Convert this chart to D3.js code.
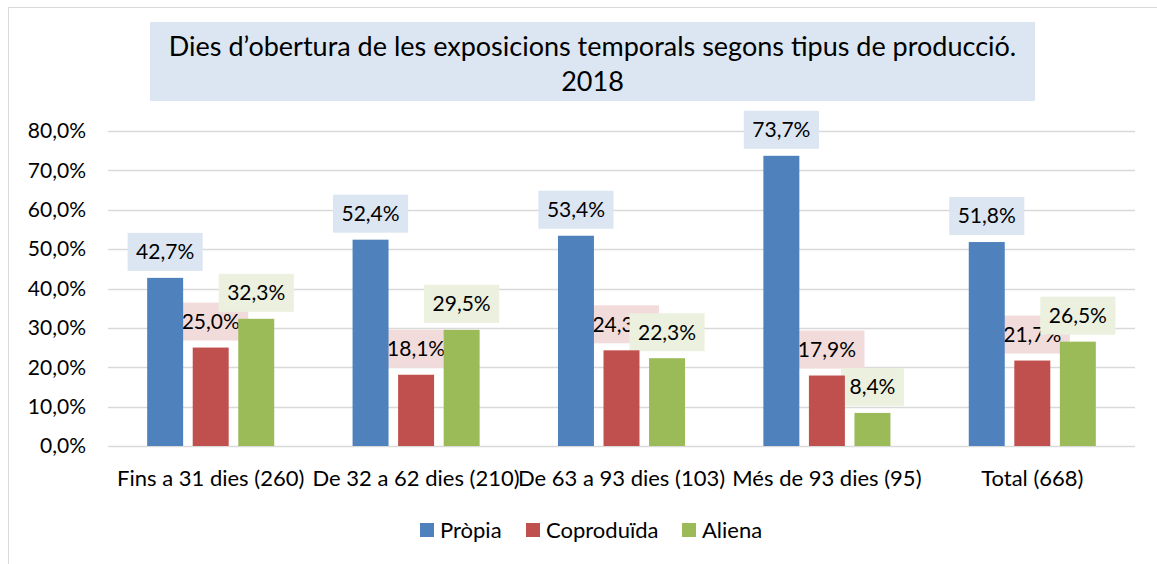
<!DOCTYPE html>
<html>
<head>
<meta charset="utf-8">
<script src="https://cdn.jsdelivr.net/npm/d3@7"></script>
<style>
  body { margin: 0; background: #fff; }
  text { font-family: Lato, "Open Sans", sans-serif; fill: #000; }
</style>
</head>
<body>
<div id="chart"></div>
<script>
// Chart data
const categories = ["Fins a 31 dies (260)", "De 32 a 62 dies (210)", "De 63 a 93 dies (103)", "Més de 93 dies (95)", "Total (668)"];
const seriesNames = ["Pròpia", "Coproduïda", "Aliena"];
const propia = [42.7, 52.4, 53.4, 73.7, 51.8];
const coproduida = [25.0, 18.1, 24.3, 17.9, 21.7];
const aliena = [32.3, 29.5, 22.3, 8.4, 26.5];
const yTicks = [0, 10, 20, 30, 40, 50, 60, 70, 80];
const titleLines = ["Dies d\u2019obertura de les exposicions temporals segons tipus de producció.", "2018"];

const seriesValues = [propia, coproduida, aliena];
const barColors = ["#4f81bd", "#c0504d", "#9bbb59"];
const labelFills = ["#dce6f2", "#f2dcdb", "#ebf1de"];

const W = 1157, H = 564;
const svg = d3.select("#chart").append("svg").attr("width", W).attr("height", H);

// outer frame
svg.append("rect")
  .attr("x", 8.5).attr("y", 7.5)
  .attr("width", 1200).attr("height", 700)
  .attr("fill", "none").attr("stroke", "#d9d9d9");

const x0 = d3.scaleBand().domain(categories).range([108, 1135]);
const x1 = d3.scaleBand().domain(seriesNames).range([0, x0.bandwidth()])
  .paddingInner(0.21).paddingOuter(0.86);
const y = d3.scaleLinear().domain([0, 80]).range([446, 131]);

const fmt = v => v.toFixed(1).replace(".", ",") + "%";

// gridlines
svg.append("g").selectAll("line").data(yTicks).join("line")
  .attr("x1", 108).attr("x2", 1135)
  .attr("y1", d => Math.round(y(d)) + 0.5).attr("y2", d => Math.round(y(d)) + 0.5)
  .attr("stroke", "#d9d9d9").attr("stroke-width", 1.3);

// y axis labels
svg.append("g").selectAll("text").data(yTicks).join("text")
  .attr("x", 86).attr("y", d => y(d))
  .attr("dy", "0.35em")
  .attr("text-anchor", "end")
  .style("font-size", "21px")
  .text(d => fmt(d));

// x axis labels
svg.append("g").selectAll("text").data(categories).join("text")
  .attr("x", d => x0(d) + x0.bandwidth() / 2)
  .attr("y", 478).attr("dy", "0.35em")
  .attr("text-anchor", "middle")
  .style("font-size", "22px")
  .text(d => d);

// title
svg.append("rect")
  .attr("x", 150).attr("y", 22).attr("width", 885).attr("height", 79)
  .attr("fill", "#dce6f2");
svg.append("g").selectAll("text").data(titleLines).join("text")
  .attr("x", 592.5).attr("y", (d, i) => 47 + i * 35).attr("dy", "0.35em")
  .attr("text-anchor", "middle")
  .style("font-size", "27px")
  .text(d => d);

// data labels (drawn beneath bars, series order)
const labelLayer = svg.append("g");
seriesValues.forEach((vals, si) => {
  vals.forEach((v, ci) => {
    const cx = x0(categories[ci]) + x1(seriesNames[si]) + x1.bandwidth() / 2;
    const g = labelLayer.append("g");
    const t = g.append("text")
      .attr("x", cx).attr("y", y(v) - 7 - 19).attr("dy", "0.35em")
      .attr("text-anchor", "middle")
      .style("font-size", "21px")
      .text(fmt(v));
    const w = t.node().getComputedTextLength() + 17;
    g.insert("rect", "text")
      .attr("x", cx - w / 2).attr("y", y(v) - 7 - 38)
      .attr("width", w).attr("height", 38)
      .attr("fill", labelFills[si]);
  });
});

// bars
seriesValues.forEach((vals, si) => {
  svg.append("g").selectAll("rect").data(vals).join("rect")
    .attr("x", (d, i) => x0(categories[i]) + x1(seriesNames[si]))
    .attr("y", d => y(d))
    .attr("width", x1.bandwidth())
    .attr("height", d => y(0) - y(d))
    .attr("fill", barColors[si]);
});

// legend
const legendX = [420, 526, 682];
const legend = svg.append("g").selectAll("g").data(seriesNames).join("g")
  .attr("transform", (d, i) => `translate(${legendX[i]},523)`);
legend.append("rect").attr("width", 14).attr("height", 14)
  .attr("fill", (d, i) => barColors[i]);
legend.append("text").attr("x", 20).attr("y", 7).attr("dy", "0.35em")
  .style("font-size", "22px")
  .text(d => d);
</script>
</body>
</html>
